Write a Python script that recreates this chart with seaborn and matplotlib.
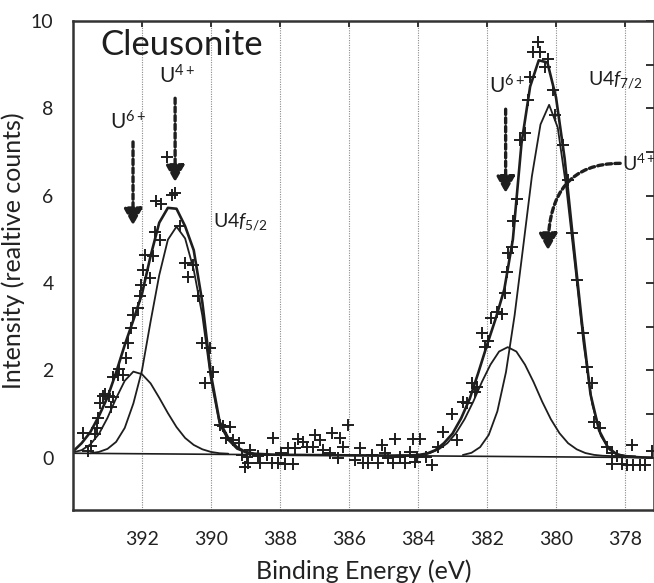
import matplotlib
matplotlib.use("Agg")
import matplotlib.pyplot as plt
import seaborn as sns
import pandas as pd

# ---------------- data ----------------
# measured points (binding energy, intensity)
pts_be = [393.71, 393.57, 393.47, 393.35, 393.30, 393.28, 393.23, 393.13, 393.08, 392.96,
          392.89, 392.84, 392.84, 392.70, 392.67, 392.55, 392.45, 392.41, 392.31, 392.26,
          392.12, 392.07, 392.02, 391.97, 391.92, 391.76, 391.68, 391.63, 391.49, 391.59,
          391.44, 391.27, 391.13, 391.05, 390.91, 390.76, 390.66, 390.52, 390.38, 390.27,
          390.03, 389.93, 390.17, 389.74, 389.64, 389.45, 389.57, 389.35, 389.18, 388.87,
          389.11, 388.97, 388.63, 388.39, 387.98, 388.92, 389.01, 388.58, 388.24, 388.05,
          387.86, 387.61, 388.19, 387.76, 387.57, 387.47,
          387.32, 387.23, 387.03, 386.99, 386.84, 386.74, 386.55, 386.50, 386.26, 386.17,
          386.31, 386.02, 385.83, 385.68, 385.59, 385.44, 385.34, 385.15, 385.05, 384.96,
          384.86, 384.67, 384.72, 384.52, 384.38, 384.23, 384.09, 384.14, 383.94, 384.04,
          383.77, 383.60, 383.41, 383.27, 383.02, 382.88,
          382.69, 382.59, 382.44, 382.35, 382.30, 382.15, 382.06, 381.96, 381.87, 381.72,
          381.58, 381.48, 381.43, 381.38, 381.29, 381.24, 381.14, 381.04, 380.90, 380.80,
          380.75, 380.66, 380.51, 380.46, 380.32, 380.22, 380.08, 380.03, 379.79, 379.66,
          379.54, 379.40, 379.21, 379.11, 378.97, 378.89, 378.72, 378.53, 378.39, 378.24,
          378.39, 378.10, 377.95, 377.76, 377.57, 377.43, 377.79, 377.23]
pts_int = [0.56, 0.15, 0.27, 0.54, 0.68, 0.90, 1.24, 1.41, 1.45, 1.41,
           1.17, 1.39, 1.85, 1.89, 2.02, 1.89, 2.27, 2.62, 2.96, 3.27,
           3.42, 3.69, 3.95, 4.30, 4.64, 4.11, 4.62, 5.17, 4.98, 5.88,
           5.81, 6.88, 6.01, 6.05, 5.30, 4.45, 4.13, 4.41, 3.69, 2.63,
           2.52, 1.97, 1.70, 0.75, 0.72, 0.69, 0.44, 0.40, 0.34, 0.17,
           0.06, 0.02, 0.04, 0.06, 0.10, -0.13, -0.21, -0.13, -0.13, -0.13,
           -0.15, -0.15, 0.44, 0.21, 0.21, 0.42,
           0.36, 0.25, 0.25, 0.52, 0.40, 0.17, 0.10, 0.56, 0.44, 0.25,
           -0.02, 0.75, -0.05, 0.21, -0.13, -0.13, 0.06, -0.13, 0.29, 0.10,
           -0.02, 0.42, -0.13, 0.02, -0.13, 0.14, -0.09, 0.42, 0.42, 0.02,
           0.01, -0.17, 0.25, 0.59, 1.01, 0.40,
           1.28, 1.24, 1.70, 1.51, 1.62, 2.86, 2.54, 2.68, 3.19, 3.34,
           3.29, 3.78, 4.26, 4.69, 4.82, 5.43, 5.92, 7.27, 7.43, 8.19,
           8.72, 9.30, 9.53, 9.30, 8.95, 9.14, 8.42, 7.85, 7.16, 6.36,
           5.14, 4.07, 2.85, 2.08, 1.72, 0.82, 0.67, 0.25, 0.10, 0.04,
           -0.15, -0.15, -0.17, -0.17, -0.17, -0.17, 0.29, 0.16]

# overall fit envelope
env_be = [394.0, 393.75, 393.5, 393.25, 393.0, 392.75, 392.5, 392.25, 392.0, 391.75,
          391.5, 391.25, 391.0, 390.75, 390.5, 390.25, 390.0, 389.75, 389.5, 389.25,
          389.0, 388.75, 388.5, 388.25, 388.0, 387.75, 387.5, 387.25, 387.0, 386.75,
          386.5, 386.25, 386.0, 385.75, 385.5, 385.25, 385.0, 384.75, 384.5, 384.25,
          384.0, 383.75, 383.5, 383.25, 383.0, 382.75, 382.5, 382.25, 382.0, 381.75,
          381.5, 381.25, 381.0, 380.75, 380.5, 380.25, 380.0, 379.75, 379.5, 379.25,
          379.0, 378.75, 378.5, 378.25, 378.0, 377.75, 377.5, 377.25]
env_int = [0.14, 0.33, 0.58, 0.95, 1.38, 1.95, 2.58, 3.15, 3.75, 4.62,
           5.38, 5.72, 5.70, 5.30, 4.75, 3.55, 1.90, 0.82, 0.45, 0.24,
           0.13, 0.09, 0.08, 0.07, 0.064, 0.063, 0.061, 0.06, 0.058, 0.057,
           0.055, 0.054, 0.052, 0.051, 0.049, 0.048, 0.046, 0.045, 0.05, 0.05,
           0.06, 0.09, 0.17, 0.33, 0.55, 0.90, 1.35, 1.95, 2.58, 3.18,
           3.85, 5.00, 7.20, 8.50, 9.10, 9.05, 8.25, 6.85, 4.95, 3.10,
           1.45, 0.62, 0.24, 0.08, 0.03, 0.015, 0.005, 0.0]

# U6+ 4f5/2 component
u6_52_be = [394.0, 393.75, 393.5, 393.25, 393.0, 392.75, 392.5, 392.25, 392.0, 391.75,
            391.5, 391.25, 391.0, 390.75, 390.5, 390.25, 390.0, 389.75, 389.5]
u6_52_int = [0.12, 0.17, 0.30, 0.54, 0.91, 1.36, 1.76, 1.97, 1.91, 1.70,
             1.37, 1.02, 0.70, 0.45, 0.29, 0.19, 0.13, 0.10, 0.09]
# U4+ 4f5/2 component
u4_52_be = [393.5, 393.25, 393.0, 392.75, 392.5, 392.25, 392.0, 391.75, 391.5, 391.25,
            391.0, 390.75, 390.5, 390.25, 390.0, 389.75, 389.5, 389.25, 389.0, 388.75]
u4_52_int = [0.10, 0.13, 0.20, 0.36, 0.68, 1.24, 2.00, 3.12, 4.18, 4.99,
             5.29, 5.02, 4.30, 3.25, 1.78, 0.76, 0.40, 0.20, 0.12, 0.09]
# U6+ 4f7/2 component
u6_72_be = [384.4, 384.15, 383.9, 383.65, 383.4, 383.15, 382.9, 382.65, 382.4, 382.15,
            381.9, 381.65, 381.4, 381.15, 380.9, 380.65, 380.4, 380.15, 379.9, 379.65,
            379.4, 379.15, 378.9, 378.65, 378.4]
u6_72_int = [0.035, 0.043, 0.063, 0.105, 0.19, 0.33, 0.56, 0.88, 1.28, 1.73,
             2.13, 2.43, 2.53, 2.43, 2.13, 1.73, 1.28, 0.88, 0.56, 0.33,
             0.19, 0.105, 0.063, 0.043, 0.035]
# U4+ 4f7/2 component
u4_72_be = [382.7, 382.45, 382.2, 381.95, 381.7, 381.45, 381.2, 380.95, 380.7, 380.45,
            380.2, 379.95, 379.7, 379.45, 379.2, 378.95, 378.7, 378.45, 378.2, 377.95, 377.7]
u4_72_int = [0.06, 0.11, 0.24, 0.52, 1.06, 1.96, 3.26, 4.84, 6.44, 7.63,
             8.08, 7.56, 6.17, 4.41, 2.60, 1.22, 0.50, 0.18, 0.07, 0.04, 0.03]
# linear background
base_be = [394.0, 377.2]
base_int = [0.10, 0.0]

x_ticks = [392, 390, 388, 386, 384, 382, 380, 378]
y_ticks = [0, 2, 4, 6, 8, 10]

# ---------------- style ----------------
sns.set_theme(style="white")
plt.rcParams['font.family'] = ['Lato', 'DejaVu Sans']
plt.rcParams['mathtext.fontset'] = 'custom'
plt.rcParams['mathtext.rm'] = 'Lato'
plt.rcParams['mathtext.it'] = 'Lato:italic'
plt.rcParams['mathtext.default'] = 'regular'

ink = '#1e1e1e'
fig = plt.figure(figsize=(6.54, 5.83), dpi=100)
ax = fig.add_axes([0.1116, 0.1252, 0.8884, 0.8388])

# curves
sns.lineplot(x=base_be, y=base_int, ax=ax, color=ink, lw=1.2, estimator=None, sort=False, legend=False)
for bx, by in [(u6_52_be, u6_52_int), (u4_52_be, u4_52_int),
               (u6_72_be, u6_72_int), (u4_72_be, u4_72_int)]:
    sns.lineplot(x=bx, y=by, ax=ax, color=ink, lw=1.3, estimator=None, sort=False, legend=False)
sns.lineplot(x=env_be, y=env_int, ax=ax, color=ink, lw=1.9, estimator=None, sort=False, legend=False)

# measured points
pts = pd.DataFrame({'be': pts_be, 'int': pts_int})
sns.scatterplot(data=pts, x='be', y='int', ax=ax, marker='+', s=80, color=ink,
                linewidth=1.4, zorder=5, legend=False)

# axes
ax.set_xlim(394, 377.16)
ax.set_ylim(-1.2, 10)
ax.set_xticks(x_ticks)
ax.set_xticklabels([str(t) for t in x_ticks])
ax.set_yticks(y_ticks)
ax.set_yticklabels([str(t) for t in y_ticks])
ax.set_yticks([1, 3, 5, 7, 9], minor=True)

ax.grid(axis='x', linestyle=(0, (1, 1.2)), color='#8a8a8a', lw=0.8)
ax.grid(axis='y', visible=False)
ax.set_axisbelow(True)

for s in ax.spines.values():
    s.set_color('#333333')
    s.set_linewidth(1.8)

ax.tick_params(axis='both', which='both', direction='in', top=True, right=True,
               color='#333333', width=1.4, labelcolor='#222222', labelsize=14)
ax.tick_params(axis='y', which='both', length=6, pad=14)
ax.tick_params(axis='x', which='both', length=4, pad=15)

ax.set_xlabel('Binding Energy (eV)', fontsize=18, labelpad=8, color='#222222')
ax.set_ylabel('Intensity (realtive counts)', fontsize=18, labelpad=4, color='#222222', y=0.53)

# ---------------- annotations ----------------
ax.text(393.22, 9.45, 'Cleusonite', fontsize=25, ha='left', va='center', color=ink)
ax.text(390.99, 8.47, 'U$^{4+}$', fontsize=15, ha='center', va='bottom', color=ink)
ax.text(392.40, 7.43, 'U$^{6+}$', fontsize=15, ha='center', va='bottom', color=ink)
ax.text(381.42, 8.24, 'U$^{6+}$', fontsize=15, ha='center', va='bottom', color=ink)
ax.text(378.10, 6.74, 'U$^{4+}$', fontsize=14, ha='left', va='center', color=ink, clip_on=False)
ax.text(389.94, 5.28, r'U4$\mathit{f}_{5/2}$', fontsize=14, ha='left', va='baseline', color=ink)
ax.text(379.07, 8.53, r'U4$\mathit{f}_{7/2}$', fontsize=14, ha='left', va='baseline', color=ink)

arrow_kw = dict(arrowstyle='-|>,head_length=1.0,head_width=0.55', lw=2.4,
                linestyle=(0, (1.6, 1.0)), color=ink, shrinkA=0, shrinkB=0, mutation_scale=10)
ax.annotate('', xy=(392.26, 5.32), xytext=(392.26, 7.23), arrowprops=arrow_kw)
ax.annotate('', xy=(391.04, 6.31), xytext=(391.04, 8.23), arrowprops=arrow_kw)
ax.annotate('', xy=(381.46, 6.06), xytext=(381.46, 7.98), arrowprops=arrow_kw)
ax.annotate('', xy=(380.23, 4.75), xytext=(378.14, 6.74),
            arrowprops=dict(arrow_kw, connectionstyle='angle3,angleA=0,angleB=90'))

fig.savefig('out.png', dpi=100)
